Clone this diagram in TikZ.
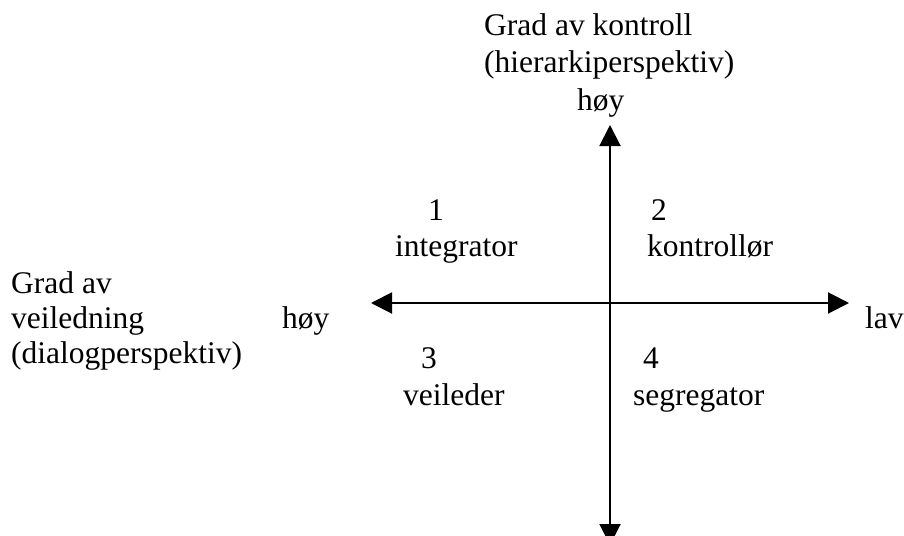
\documentclass[tikz,border=0pt]{standalone}
\usepackage{fontspec}
\setmainfont{Liberation Serif}
\usetikzlibrary{arrows.meta}

\begin{document}
\begin{tikzpicture}[x=1pt,y=-1pt,
    axis/.style={line width=2pt, {Triangle[length=21pt,width=21pt]}-{Triangle[length=21pt,width=21pt]}},
    lbl/.style={anchor=base west, inner sep=0pt, font=\fontsize{31.5pt}{37pt}\selectfont}]
  % page frame
  \useasboundingbox (0,0) rectangle (904,535);

  % axis end points
  \coordinate (top) at (610,125);
  \coordinate (bottom) at (610,545);
  \coordinate (left) at (371,303);
  \coordinate (right) at (849,303);

  % axes
  \draw[axis] (bottom) -- (top);
  \draw[axis] (left) -- (right);

  % vertical axis title
  \node[lbl] (vt1) at (484,36) {Grad av kontroll};
  \node[lbl] (vt2) at (484,73) {(hierarkiperspektiv)};
  \node[lbl] (vhigh) at (577,110) {høy};

  % horizontal axis title
  \node[lbl] (ht1) at (11,293) {Grad av};
  \node[lbl] (ht2) at (11,328) {veiledning};
  \node[lbl] (ht3) at (11,363) {(dialogperspektiv)};
  \node[lbl] (hhigh) at (282,328) {høy};
  \node[lbl] (hlow) at (865,328) {lav};

  % quadrants
  \node[lbl] (n1) at (428,220) {1};
  \node[lbl] (q1) at (395,256) {integrator};
  \node[lbl] (n2) at (651,220) {2};
  \node[lbl] (q2) at (647,256) {kontrollør};
  \node[lbl] (n3) at (421,368) {3};
  \node[lbl] (q3) at (403,405) {veileder};
  \node[lbl] (n4) at (643,368) {4};
  \node[lbl] (q4) at (633,405) {segregator};
\end{tikzpicture}
\end{document}
